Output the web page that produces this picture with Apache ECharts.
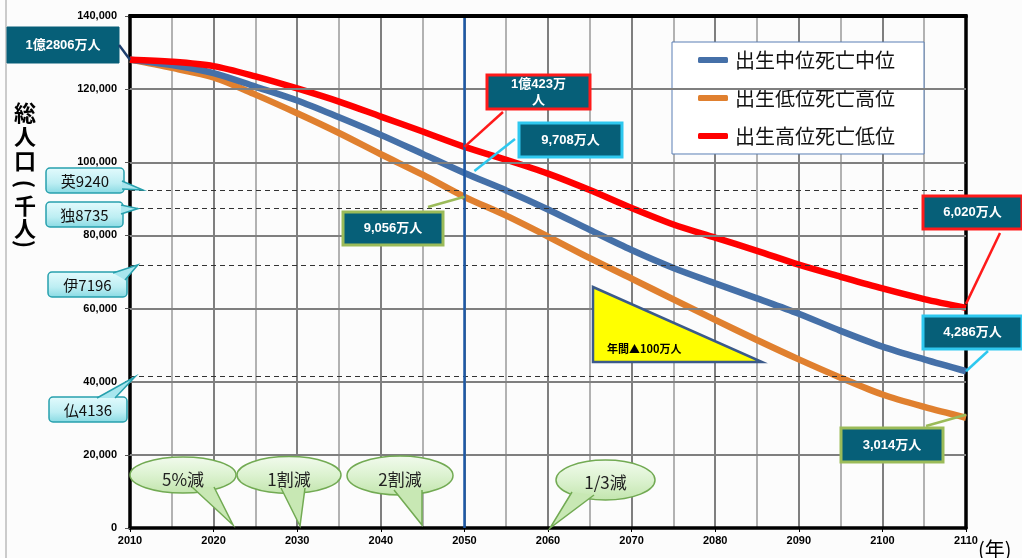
<!DOCTYPE html>
<html><head><meta charset="utf-8">
<script src="https://cdn.jsdelivr.net/npm/echarts@6/dist/echarts.min.js"></script>
<style>html,body{margin:0;padding:0;background:#fcfcfc}#c{width:1022px;height:558px}</style>
</head><body><div id="c"></div>
<script>
// ---- data (千人) ----
const years = [2010,2015,2020,2025,2030,2035,2040,2045,2050,2055,2060,2065,2070,2075,2080,2085,2090,2095,2100,2105,2110];
const seriesNames = ['出生中位死亡中位','出生低位死亡高位','出生高位死亡低位'];
const medium    = [128057,126600,124400,120700,116900,112300,107500,102300,97076,92300,87100,81500,76000,71100,66900,62800,58600,53900,49600,46100,42860];
const lowBirth  = [128057,125800,123200,118500,113400,108000,102200,96600,90563,85400,79700,73800,68200,62500,56900,51400,46100,41100,36500,33100,30144];
const highBirth = [128057,127500,126300,123500,120200,116600,112500,108400,104233,100700,96900,92400,87500,83000,79400,75800,72000,68700,65500,62600,60200];
const yTicks = [0,20000,40000,60000,80000,100000,120000,140000];
const refLabels = ['英9240','独8735','伊7196','仏4136'];
const refValues = [92400,87350,71960,41360];
const markYear = 2050;
const valueCallouts = ['1億2806万人','1億423万\n人','9,708万人','9,056万人','6,020万人','4,286万人','3,014万人'];
const bubbleTexts = ['5%減','1割減','2割減','1/3減'];
const triangleText = '年間▲100万人';
const yAxisNameChars = ['総','人','口','(','千','人',')'];
const xAxisName = '(年)';

const chart = echarts.init(document.getElementById('c'));
const pairs = arr => years.map((y,i)=>[y,arr[i]]);
const colors = {medium:'#4570a8', low:'#e0802f', high:'#ff0000'};
const numFont = 'Liberation Sans, Arial, sans-serif';
const jpFont = '"Noto Sans CJK JP", sans-serif';

const lineSeries = (name, data, color, z) => ({
  name, type:'line', data:pairs(data), smooth:0.3, symbol:'none', showSymbol:false,
  lineStyle:{color, width:6.5, opacity:1}, itemStyle:{color}, z
});

const refMarks = refValues.map(v=>({yAxis:v, lineStyle:{type:[5,4], color:'#333', width:1.2}}));
refMarks.push({xAxis:markYear, lineStyle:{type:'solid', color:'#1d58a6', width:2.5}});
const hGrid = yTicks.slice(1,-1).map(v=>({yAxis:v}));

const frameLine = {show:true, onZero:false, lineStyle:{color:'#000', width:3.5}};
const option = {
  animation:false,
  backgroundColor:'#fcfcfc',
  grid:{left:130,right:56,top:16,bottom:30,show:false},
  legend:{
    orient:'vertical', left:672, top:42, padding:[8,29,8,26], itemGap:18,
    itemWidth:30, itemHeight:6, icon:'roundRect',
    backgroundColor:'#ffffff', borderColor:'#5b7fb5', borderWidth:1,
    data:[seriesNames[0],seriesNames[1],seriesNames[2]],
    textStyle:{fontSize:20, color:'#111', fontFamily:jpFont, padding:[0,0,0,2]}
  },
  xAxis:[{type:'value',min:2010,max:2110,interval:10,position:'bottom',
    axisLine:frameLine,
    axisTick:{show:true,length:4,lineStyle:{color:'#000'}},
    axisLabel:{margin:7,fontSize:11,fontWeight:'bold',color:'#000',fontFamily:numFont,formatter:v=>String(v)},
    splitLine:{show:true,lineStyle:{color:'#7f7f7f',width:2,opacity:1,type:'solid'}},
    minorTick:{show:false,splitNumber:2},
    minorSplitLine:{show:true,lineStyle:{color:'#aaaaaa',width:1.8,opacity:1,type:'solid'}}
  },{type:'value',min:2010,max:2110,interval:10,position:'top',
    axisLine:frameLine,axisTick:{show:false},axisLabel:{show:false},splitLine:{show:false}}],
  yAxis:[{type:'value',min:0,max:140000,interval:20000,position:'left',
    axisLine:frameLine,
    axisTick:{show:true,length:5,lineStyle:{color:'#555'}},
    axisLabel:{margin:13,fontSize:11,fontWeight:'bold',color:'#000',fontFamily:numFont,
      formatter:v=>v.toLocaleString('en-US')},
    splitLine:{show:true,lineStyle:{color:'#7f7f7f',width:2,opacity:1,type:'solid'}}
  },{type:'value',min:0,max:140000,interval:20000,position:'right',
    axisLine:frameLine,axisTick:{show:false},axisLabel:{show:false},splitLine:{show:false}}],
  series:[
    {name:'gridHelper', type:'line', data:[], z:1, silent:true,
      markLine:{silent:true, symbol:['none','none'], label:{show:false}, animation:false,
        lineStyle:{type:'solid', color:'#7f7f7f', width:2}, data:hGrid}},
    lineSeries(seriesNames[1], lowBirth, colors.low, 2),
    lineSeries(seriesNames[0], medium, colors.medium, 3),
    Object.assign(lineSeries(seriesNames[2], highBirth, colors.high, 4), {
      markLine:{silent:true, symbol:['none','none'], label:{show:false}, data:refMarks, animation:false}
    })
  ]
};
chart.setOption(option);

// ---- annotations ----
const P = (x,y)=>chart.convertToPixel({xAxisIndex:0, yAxisIndex:0},[x,y]);
const G = [];
const Z = 20;
function tealBox(x,y,w,h,text,border){
  G.push({type:'rect',z:Z,shape:{x,y,width:w,height:h},
    style:{fill:'#065f78',stroke:border||'#065f78',lineWidth:border?3:1}});
  G.push({type:'text',z:Z+1,style:{text,x:x+w/2,y:y+h/2,align:'center',verticalAlign:'middle',
    fill:'#fff',fontSize:13,fontWeight:'bold',fontFamily:numFont+', "Noto Sans CJK JP"',lineHeight:16}});
}
function connector(x1,y1,x2,y2,color){
  G.push({type:'line',z:Z,shape:{x1,y1,x2,y2},style:{stroke:color,lineWidth:2.5}});
}
function cyanCallout(x,y,w,h,text,tail){
  G.push({type:'rect',z:Z,shape:{x,y,width:w,height:h,r:4},
    style:{fill:new echarts.graphic.LinearGradient(0,0,0,1,[{offset:0,color:'#e4fbfd'},{offset:0.6,color:'#bdeef3'},{offset:1,color:'#86d9e2'}]),
      stroke:'#27a0ad',lineWidth:1.5}});
  G.push({type:'polygon',z:Z+1,shape:{points:tail},style:{fill:'#a8e6ee'}});
  G.push({type:'polyline',z:Z+1,shape:{points:tail},style:{stroke:'#27a0ad',lineWidth:1.5,fill:null}});
  G.push({type:'text',z:Z+2,style:{text,x:x+w/2,y:y+h/2+1,align:'center',verticalAlign:'middle',
    fill:'#111',fontSize:15,fontFamily:'"Noto Sans CJK JP", "Liberation Sans"'}});
}
function bubble(cx,cy,rx,ry,text,tail,ty){
  G.push({type:'ellipse',z:Z,shape:{cx,cy,rx,ry},
    style:{fill:new echarts.graphic.LinearGradient(0,0,0,1,[{offset:0,color:'#f2fbee'},{offset:0.5,color:'#dcf2d0'},{offset:1,color:'#c2e5ad'}]),
      stroke:'#72aa53',lineWidth:1.5}});
  G.push({type:'polygon',z:Z+1,shape:{points:tail},style:{fill:'#c8e8b4'}});
  G.push({type:'polyline',z:Z+1,shape:{points:tail},style:{stroke:'#72aa53',lineWidth:1.5,fill:null}});
  G.push({type:'text',z:Z+2,style:{text,x:cx,y:ty,align:'center',verticalAlign:'middle',
    fill:'#222',fontSize:17,fontFamily:'"Noto Sans CJK JP", "Liberation Sans"'}});
}

// outer frame line and plot top edge
G.push({type:'line',z:Z,shape:{x1:6,y1:0,x2:6,y2:558},style:{stroke:'#9a9a9a',lineWidth:1}});
const tl = P(2010, yTicks[yTicks.length-1]), tr = P(2110, yTicks[yTicks.length-1]);
G.push({type:'line',z:Z,shape:{x1:tl[0]-1.5,y1:tl[1],x2:tr[0]+1.5,y2:tr[1]},style:{stroke:'#000',lineWidth:4}});
// vertical y-axis name, one glyph per row; parentheses turned to vertical form
const nameY = [112.5,137,161,184,206,228.5,244];
yAxisNameChars.forEach((ch,i)=>{
  const paren = ch==='(' || ch===')';
  G.push({type:'text',z:Z,x:25,y:nameY[i],rotation:paren?-Math.PI/2:0,
    style:{text:ch,x:0,y:0,align:'center',verticalAlign:'middle',
      fontSize:22,fontWeight:'bold',fill:'#000',fontFamily:jpFont}});
});
G.push({type:'text',z:Z,style:{text:xAxisName,x:978,y:549,align:'left',verticalAlign:'middle',
  fontSize:20,fill:'#000',fontFamily:jpFont}});

// value callouts
let p = P(years[0], medium[0]);
tealBox(7,27,112,36,valueCallouts[0],null);
connector(119,45,p[0],p[1],'#1f3f6e');

p = P(markYear, highBirth[8]);
tealBox(487,75,103,34,valueCallouts[1],'#ff1a1a');
connector(503,112,p[0],p[1],'#ff1a1a');

p = P(markYear, medium[8]);
tealBox(519,123,103,34,valueCallouts[2],'#2ec8ef');
connector(515,139,p[0]+10,p[1]-2,'#2ec8ef');

p = P(markYear, lowBirth[8]);
tealBox(343,212,100,33,valueCallouts[3],'#9bbb59');
connector(428,207,p[0],p[1],'#9bbb59');

p = P(years[20], highBirth[20]);
tealBox(923,196,99,33,valueCallouts[4],'#ff1a1a');
connector(1000,233,p[0],p[1]-4,'#ff1a1a');

p = P(years[20], medium[20]);
tealBox(923,316,99,33,valueCallouts[5],'#2ec8ef');
connector(988,351,p[0],p[1],'#2ec8ef');

p = P(years[20], lowBirth[20]);
tealBox(841,428,102,34,valueCallouts[6],'#9bbb59');
connector(926,426,p[0],p[1]-3,'#9bbb59');

// country callouts
const ly = refValues.map(v=>P(2010,v)[1]);
cyanCallout(46,168,78,25,refLabels[0],[[122,181],[143,ly[0]],[122,189]]);
cyanCallout(46,202,77,25,refLabels[1],[[121,205],[138,ly[1]],[121,214]]);
cyanCallout(48,272,79,25,refLabels[2],[[113,273],[138,ly[2]],[125,280]]);
cyanCallout(49,397,78,25,refLabels[3],[[97,398],[135,ly[3]],[115,398]]);

// bubbles
bubble(183,475,53,18,bubbleTexts[0],[[192,487],[233,525],[214,487]],480);
bubble(289,475,52,18.5,bubbleTexts[1],[[281,488],[300,526],[305,488]],480);
bubble(400,475.5,53,19.5,bubbleTexts[2],[[394,490],[422,525],[422,490]],480);
bubble(605.5,480,49.5,20,bubbleTexts[3],[[572,492],[550,528],[594,495]],483);

// triangle
G.push({type:'polygon',z:Z,shape:{points:[[593,287],[593,362],[762,362]]},
  style:{fill:'#ffff00',stroke:'#3b5a8a',lineWidth:2.5}});
G.push({type:'text',z:Z+1,style:{text:triangleText,x:607,y:349,align:'left',verticalAlign:'middle',
  fontSize:11,fontWeight:'bold',fill:'#000',fontFamily:'"Noto Sans CJK JP", "Liberation Sans"'}});

chart.setOption({graphic:{elements:G}});
</script></body></html>
